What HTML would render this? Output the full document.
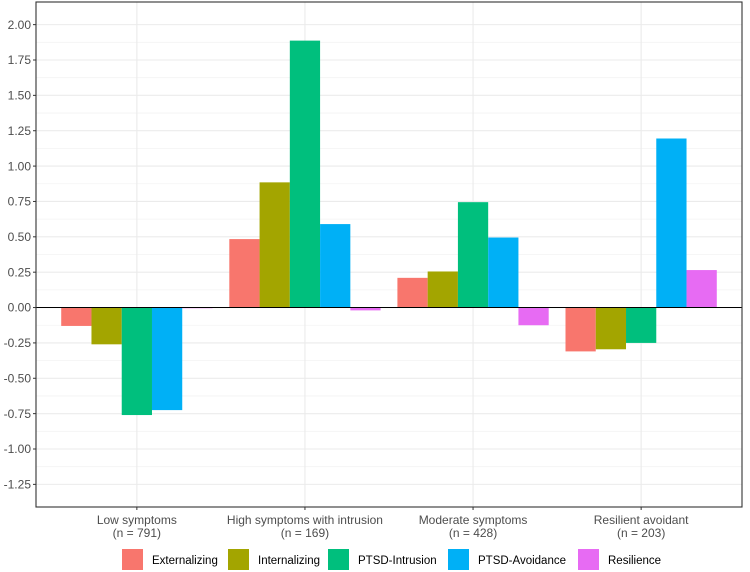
<!DOCTYPE html>
<html><head><meta charset="utf-8"><style>
html,body{margin:0;padding:0;background:#fff;}
svg{display:block;font-family:"Liberation Sans",Arial,sans-serif;}
</style></head><body>
<svg id="chart" width="750" height="572" viewBox="0 0 750 572"></svg>
<script>
const categories = ["Low symptoms", "High symptoms with intrusion", "Moderate symptoms", "Resilient avoidant"];
const categoryN = ["(n = 791)", "(n = 169)", "(n = 428)", "(n = 203)"];
const seriesNames = ["Externalizing", "Internalizing", "PTSD-Intrusion", "PTSD-Avoidance", "Resilience"];
const seriesColors = ["#F8766D", "#A3A500", "#00BF7D", "#00B0F6", "#E76BF3"];
const externalizing = [-0.13, 0.484, 0.21, -0.31];
const internalizing = [-0.26, 0.885, 0.255, -0.295];
const intrusion = [-0.76, 1.887, 0.745, -0.25];
const avoidance = [-0.725, 0.59, 0.495, 1.195];
const resilience = [-0.005, -0.02, -0.125, 0.265];
const yTicks = [2.0, 1.75, 1.5, 1.25, 1.0, 0.75, 0.5, 0.25, 0, -0.25, -0.5, -0.75, -1.0, -1.25];

const series = [externalizing, internalizing, intrusion, avoidance, resilience];
const NS = "http://www.w3.org/2000/svg";
const svg = document.getElementById("chart");
const L = 36, R = 742, T = 2, B = 507;
const yMin = -1.41, yMax = 2.16;
function y(v){ return B - (v - yMin) / (yMax - yMin) * (B - T); }
const step = (R - L) / (categories.length - 1 + 1.2);
function x(i){ return L + step * (0.6 + i); }
function el(tag, attrs, parent){ const e = document.createElementNS(NS, tag); for (const k in attrs) e.setAttribute(k, attrs[k]); (parent || svg).appendChild(e); return e; }

for (let i = 0; i < yTicks.length - 1; i++) {
  const m = (yTicks[i] + yTicks[i+1]) / 2;
  const g = el("line", {x1:L, x2:R, y1:y(m), y2:y(m), stroke:"#f3f3f3", "stroke-width":0.8});
  
  
}
yTicks.forEach(v => {
  const g = el("line", {x1:L, x2:R, y1:y(v), y2:y(v), stroke:"#ebebeb", "stroke-width":1.1});
  
  
  const t = el("line", {x1:L-3, x2:L, y1:y(v), y2:y(v), stroke:"#333", "stroke-width":1});
  
  
  const lb = el("text", {x:L-5, y:y(v)+4.2, "text-anchor":"end", "font-size":"12", fill:"#4d4d4d"});
  lb.textContent = v.toFixed(2);
  
  
});
categories.forEach((c, i) => {
  const g = el("line", {x1:x(i), x2:x(i), y1:T, y2:B, stroke:"#ebebeb", "stroke-width":1.1});
  
  
});
const groupW = step * 0.9, barW = groupW / series.length;
series.forEach((s, si) => {
  s.forEach((v, i) => {
    const x0 = x(i) - groupW / 2 + si * barW;
    const r = el("rect", {x:x0, y:Math.min(y(v), y(0)), width:barW, height:Math.abs(y(v) - y(0)), fill:seriesColors[si]});
    
    
  });
});
const zl = el("line", {x1:L, x2:R, y1:y(0), y2:y(0), stroke:"#000", "stroke-width":1});


const border = el("rect", {x:L, y:T, width:R-L, height:B-T, fill:"none", stroke:"#333", "stroke-width":1.1});


categories.forEach((c, i) => {
  const t = el("line", {x1:x(i), x2:x(i), y1:B, y2:B+3, stroke:"#333", "stroke-width":1});
  
  
  const l1 = el("text", {x:x(i), y:B+17, "text-anchor":"middle", "font-size":"12", fill:"#4d4d4d"});
  l1.textContent = c;
  
  
  const l2 = el("text", {x:x(i), y:B+30, "text-anchor":"middle", "font-size":"12", fill:"#4d4d4d"});
  l2.textContent = categoryN[i];
  
  
});
const legX = [122, 228, 328, 448, 578];
seriesNames.forEach((n, si) => {
  const k = el("rect", {x:legX[si], y:549, width:21, height:21, fill:seriesColors[si]});
  
  
  const t = el("text", {x:legX[si]+30, y:564, "font-size":"11.5", fill:"#000"});
  t.textContent = n;
  
  
});
</script>
</body></html>
